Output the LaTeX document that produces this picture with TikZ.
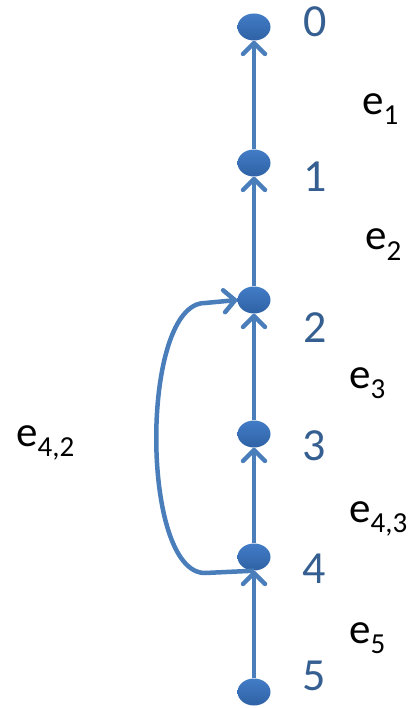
\documentclass[tikz,border=0pt]{standalone}
\usepackage{fontspec}
\setmainfont{Carlito}
\usetikzlibrary{arrows.meta,shapes.geometric}
\definecolor{edgeblue}{RGB}{74,126,187}
\definecolor{nodetop}{RGB}{66,124,198}
\definecolor{nodebot}{RGB}{47,98,165}
\definecolor{numblue}{RGB}{54,95,145}
\newcommand{\elab}[1]{e\raisebox{-10pt}{\fontsize{29}{29}\selectfont #1}}
\tikzset{
  vert/.style={ellipse, minimum width=33pt, minimum height=27pt, inner sep=0pt,
    top color=nodetop, bottom color=nodebot, draw=none},
  edge/.style={draw=edgeblue, line width=4.5pt, -{Straight Barb[length=11pt,width=22pt,round]}},
  numlbl/.style={text=numblue, font=\fontsize{46}{46}\selectfont, inner sep=0pt},
  elbl/.style={text=black, font=\fontsize{43}{43}\selectfont, inner sep=0pt, anchor=base west}
}
\begin{document}
\begin{tikzpicture}[x=1pt,y=-1pt]
\path[use as bounding box] (0,0) rectangle (414,708);
\node[vert] (n0) at (254,27) {};
\node[vert] (n1) at (254,163) {};
\node[vert] (n2) at (254,300) {};
\node[vert] (n3) at (254,434) {};
\node[vert] (n4) at (254,557) {};
\node[vert] (n5) at (254,692) {};
\draw[edge] (n1) -- (n0);
\draw[edge] (n2) -- (n1);
\draw[edge] (n3) -- (n2);
\draw[edge] (n4) -- (n3);
\draw[edge] (n5) -- (n4);
\coordinate (c1) at (205,573);
\coordinate (c2) at (205,303);
\draw[edge] (n4.south) -- (c1) .. controls (140,573) and (140,303) .. (c2) -- (n2.west);
\node[numlbl] (l0) at (315,22) {0};
\node[numlbl] (l1) at (315,177) {1};
\node[numlbl] (l2) at (315,328) {2};
\node[numlbl] (l3) at (314,446) {3};
\node[numlbl] (l4) at (314,569) {4};
\node[numlbl] (l5) at (314,676) {5};
\node[elbl] (e1) at (362,115) {\elab{1}};
\node[elbl] (e2) at (365,250) {\elab{2}};
\node[elbl] (e3) at (349,388) {\elab{3}};
\node[elbl] (e43) at (349,522) {\elab{4,3}};
\node[elbl] (e5) at (349,643) {\elab{5}};
\node[elbl] (e42) at (16,446) {\elab{4,2}};
\end{tikzpicture}
\end{document}
